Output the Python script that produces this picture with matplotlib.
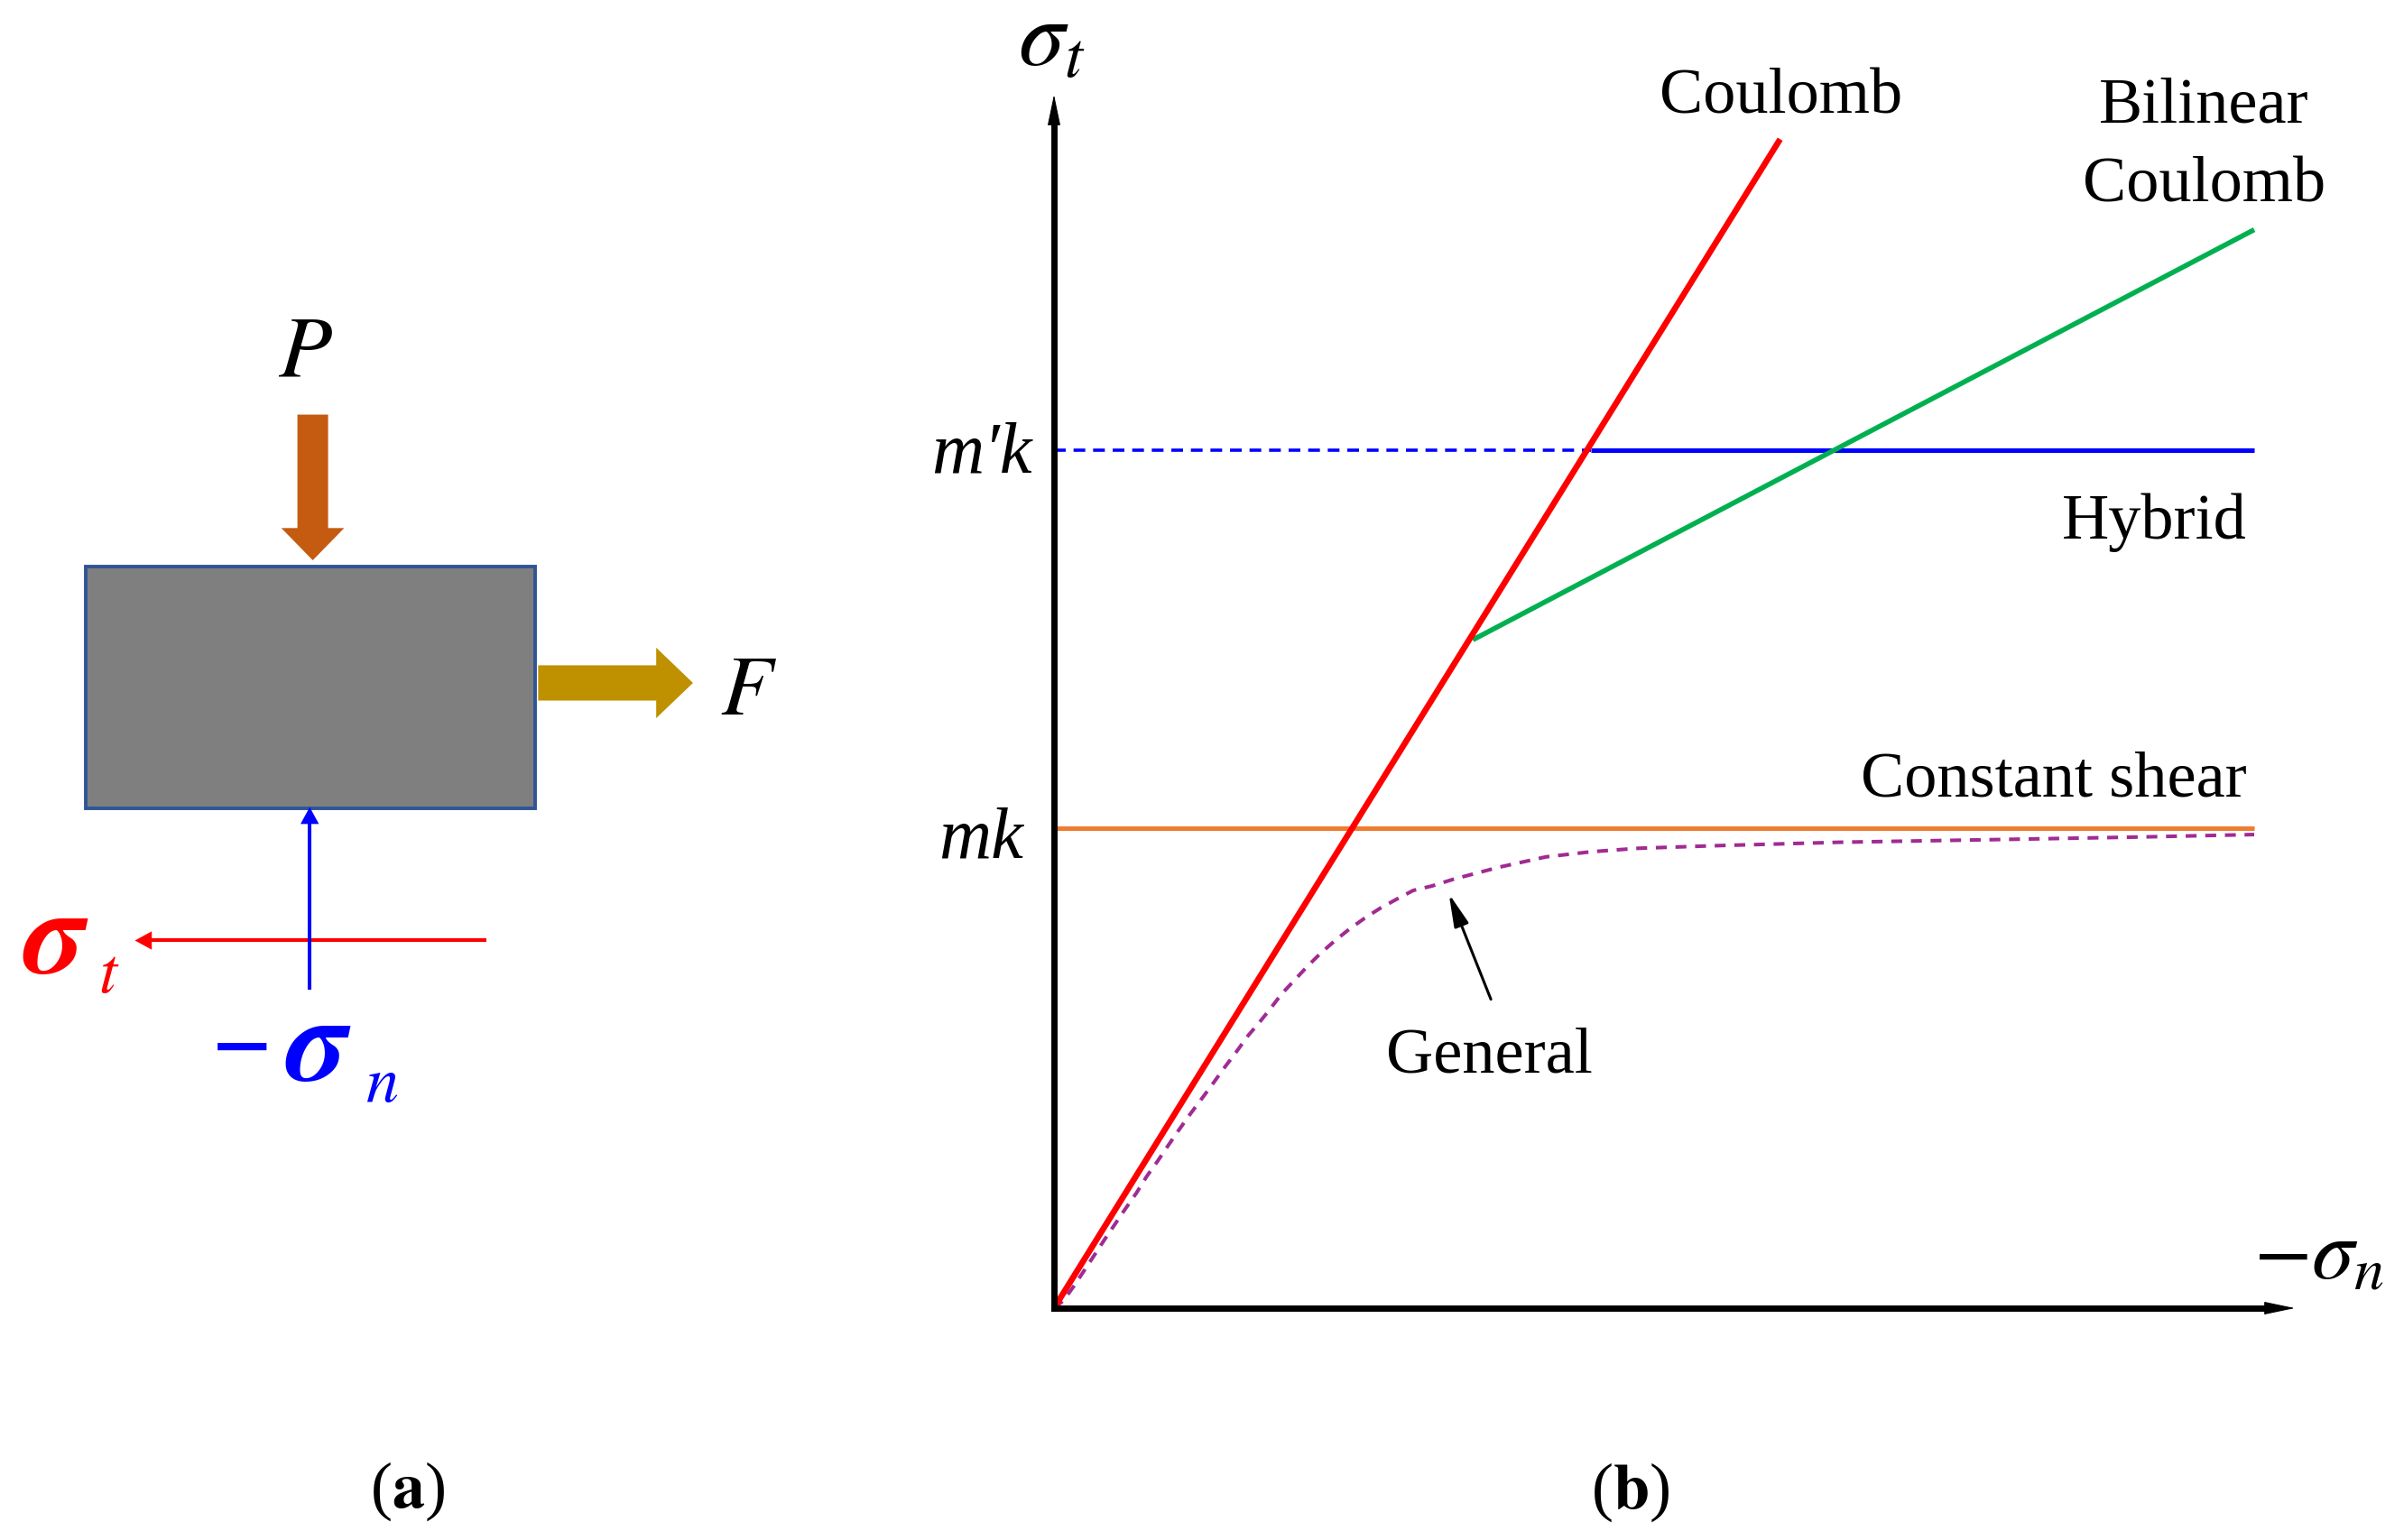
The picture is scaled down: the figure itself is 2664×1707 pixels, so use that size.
"""Friction models: block under load (a) and shear stress vs normal stress (b)."""

import matplotlib
matplotlib.use('Agg')
import matplotlib.pyplot as plt
from matplotlib.patches import FancyArrow, Rectangle
from matplotlib.transforms import ScaledTranslation


# === Panel (b) data, normal stress / shear stress with m'k = 1 ===
MK = 0.5595
MPK = 1.0
X_END = 1.0
COULOMB_X = [0.0, 0.605]
COULOMB_Y = [0.0, 1.3625]
BILINEAR_X = [0.349, 1.0]
BILINEAR_Y = [0.779, 1.257]
HYBRID_KNEE = 0.447
GENERAL_X = [0.0, 0.0078, 0.0165, 0.0248, 0.0336, 0.0421, 0.0511, 0.0599, 0.0687, 0.0772, 0.0862, 0.095,
             0.1038, 0.113, 0.1226, 0.1318, 0.1411, 0.1506, 0.1617, 0.1707, 0.1797, 0.1895, 0.2, 0.2105,
             0.2218, 0.2338, 0.2459, 0.2586, 0.2714, 0.285, 0.2992, 0.315, 0.333,
             0.371, 0.41, 0.448, 0.487, 0.551, 0.654, 0.78, 0.9, 1.0]
GENERAL_Y = [0.0, 0.0088, 0.0256, 0.0431, 0.0617, 0.0799, 0.0985, 0.1167, 0.1343, 0.1535, 0.1711, 0.1893,
             0.2072, 0.2253, 0.2432, 0.2605, 0.2787, 0.2962, 0.3176, 0.3323, 0.348, 0.366, 0.3817, 0.3975,
             0.4132, 0.428, 0.4416, 0.4543, 0.4658, 0.4763, 0.4868, 0.4921, 0.50,
             0.514, 0.526, 0.532, 0.536, 0.539, 0.543, 0.546, 0.549, 0.552]

# === Panel (a) sketch, in units of a 1568 x 1005 canvas ===
BLOCK_X = [56, 349]
BLOCK_Y = [370, 528]
P_ARROW = [204, 271, 366]
F_ARROW = [351, 452, 446]
NORMAL_ARROW = [202, 646, 527]
SHEAR_ARROW = [317, 88, 614]

# true pixel frame of panel (b)
FIG_W, FIG_H = 2664, 1708
ORIGIN_PX = (1168, 1451)
TIP_PX = (2543, 106)
UNIT_X_PX, UNIT_Y_PX = 1330, 951

plt.rcParams['font.family'] = ['Liberation Serif', 'DejaVu Serif']
plt.rcParams['mathtext.fontset'] = 'stix'

fig = plt.figure(figsize=(13.32, 8.54), dpi=200)

# --- (a) block sketch ---
ax_a = fig.add_axes([0, 0, 520 / 1568, 1])
ax_a.set_xlim(0, 520)
ax_a.set_ylim(1005, 0)
ax_a.axis('off')

ax_a.add_patch(Rectangle((BLOCK_X[0], BLOCK_Y[0]), BLOCK_X[1] - BLOCK_X[0], BLOCK_Y[1] - BLOCK_Y[0],
                         facecolor='#7f7f7f', edgecolor='#2f5597', linewidth=1.4))
ax_a.add_patch(FancyArrow(P_ARROW[0], P_ARROW[1], 0, P_ARROW[2] - P_ARROW[1], width=20, head_width=41,
                          head_length=21, length_includes_head=True, color='#c55a11', linewidth=0))
ax_a.add_patch(FancyArrow(F_ARROW[0], F_ARROW[2], F_ARROW[1] - F_ARROW[0], 0, width=23, head_width=46,
                          head_length=24, length_includes_head=True, color='#bf9000', linewidth=0))
ax_a.plot([SHEAR_ARROW[0], SHEAR_ARROW[1] + 8], [SHEAR_ARROW[2]] * 2, color='#ff0000', lw=1.45,
          solid_capstyle='butt')
ax_a.plot([NORMAL_ARROW[0], NORMAL_ARROW[0]], [NORMAL_ARROW[1], NORMAL_ARROW[2] + 8], color='#0000ff', lw=1.45,
          solid_capstyle='butt')
ax_a.add_patch(FancyArrow(SHEAR_ARROW[1] + 11, SHEAR_ARROW[2], -11, 0, width=0.5, head_width=12,
                          head_length=11, length_includes_head=True, color='#ff0000', linewidth=0))
ax_a.add_patch(FancyArrow(NORMAL_ARROW[0], NORMAL_ARROW[2] + 11, 0, -11, width=0.5, head_width=12,
                          head_length=11, length_includes_head=True, color='#0000ff', linewidth=0))

ax_a.text(199, 232, '$P$', fontsize=35, ha='center', va='center')
ax_a.text(488, 453, '$F$', fontsize=34, ha='center', va='center')
ax_a.text(36.5, 615, r'$\boldsymbol{\sigma}$', fontsize=48, color='#ff0000', ha='center', va='center')
ax_a.text(71, 637, '$t$', fontsize=26, color='#ff0000', ha='center', va='center')
ax_a.text(158, 689, '\u2212', fontsize=42, color='#0000ff', ha='center', va='center', fontweight='bold')
ax_a.text(208, 685, r'$\boldsymbol{\sigma}$', fontsize=48, color='#0000ff', ha='center', va='center')
ax_a.text(249, 708, '$n$', fontsize=26, color='#0000ff', ha='center', va='center')
ax_a.text(266, 973, r'($\mathbf{a}$)', fontsize=26, ha='center', va='center')

# --- (b) shear stress models ---
x_max = (TIP_PX[0] - ORIGIN_PX[0]) / UNIT_X_PX
y_max = (ORIGIN_PX[1] - TIP_PX[1]) / UNIT_Y_PX
ax_b = fig.add_axes([ORIGIN_PX[0] / FIG_W, (FIG_H - ORIGIN_PX[1]) / FIG_H,
                     (TIP_PX[0] - ORIGIN_PX[0]) / FIG_W, (ORIGIN_PX[1] - TIP_PX[1]) / FIG_H])
ax_b.set_xlim(0, x_max)
ax_b.set_ylim(0, y_max)
ax_b.patch.set_visible(False)

for side in ('top', 'right'):
    ax_b.spines[side].set_visible(False)
for side in ('left', 'bottom'):
    ax_b.spines[side].set_linewidth(2.5)
ax_b.spines['bottom'].set_bounds(0, x_max - 25 / UNIT_X_PX)
ax_b.spines['left'].set_bounds(0, y_max - 25 / UNIT_Y_PX)

# axis arrowheads
head = dict(arrowstyle='-|>,head_length=1.1,head_width=0.23', color='k', lw=0.4,
            shrinkA=0, shrinkB=0, mutation_scale=10)
ax_b.annotate('', xy=(1.0, 0), xycoords='axes fraction', xytext=(0.97, 0), arrowprops=head)
ax_b.annotate('', xy=(0, 1.0), xycoords='axes fraction', xytext=(0, 0.97), arrowprops=head)

ax_b.set_xticks([])
ax_b.set_yticks([MK, MPK])
ax_b.set_yticklabels(['mk', 'm\u2032k'], fontsize=29, fontstyle='italic', ha='center')
ax_b.tick_params(axis='y', length=0, pad=29)
# nudge the two labels onto the reference baselines
mk_label, mpk_label = ax_b.get_yticklabels()
mk_label.set_transform(mk_label.get_transform() + ScaledTranslation(0, -4 / 200, fig.dpi_scale_trans))
mpk_label.set_transform(mpk_label.get_transform() + ScaledTranslation(0, 5 / 200, fig.dpi_scale_trans))

ax_b.plot([0, X_END], [MK, MK], color='#ed7d31', lw=1.8, solid_capstyle='butt')
ax_b.plot([0, HYBRID_KNEE], [MPK, MPK], color='#0000ff', lw=1.3, ls=(0, (3.6, 2.4)))
ax_b.plot([HYBRID_KNEE, X_END], [MPK, MPK], color='#0000ff', lw=1.8, solid_capstyle='butt')
ax_b.plot(BILINEAR_X, BILINEAR_Y, color='#00b050', lw=2.0, solid_capstyle='butt')
ax_b.plot(GENERAL_X, GENERAL_Y, color='#a02b93', lw=1.45, ls=(0, (3, 2.4)))
ax_b.plot(COULOMB_X, COULOMB_Y, color='#ff0000', lw=2.4, solid_capstyle='butt')

ax_b.annotate('', xy=(0.329, 0.483), xytext=(0.364, 0.36),
              arrowprops=dict(arrowstyle='-|>,head_length=1.1,head_width=0.25', color='k', lw=1.1,
                              shrinkA=0, shrinkB=0, mutation_scale=10))

ax_b.text(0.606, 1.4125, 'Coulomb', fontsize=26, ha='center', va='center')
ax_b.text(0.958, 1.4015, 'Bilinear', fontsize=26, ha='center', va='center')
ax_b.text(0.958, 1.3095, 'Coulomb', fontsize=26, ha='center', va='center')
ax_b.text(0.917, 0.9165, 'Hybrid', fontsize=26, ha='center', va='center')
ax_b.text(0.833, 0.6165, 'Constant shear', fontsize=26, ha='center', va='center')
ax_b.text(0.363, 0.2945, 'General', fontsize=26, ha='center', va='center')
ax_b.text(-0.002, 1.475, r'$\sigma_t$', fontsize=37, ha='center', va='center', clip_on=False)
ax_b.text(0.999, 0.059, r'$-\sigma_n$', fontsize=34, ha='left', va='center', clip_on=False)
ax_b.text(0.48, -0.2135, r'($\mathbf{b}$)', fontsize=26, ha='center', va='center', clip_on=False)

fig.savefig('out.png', dpi=200)
plt.close(fig)
